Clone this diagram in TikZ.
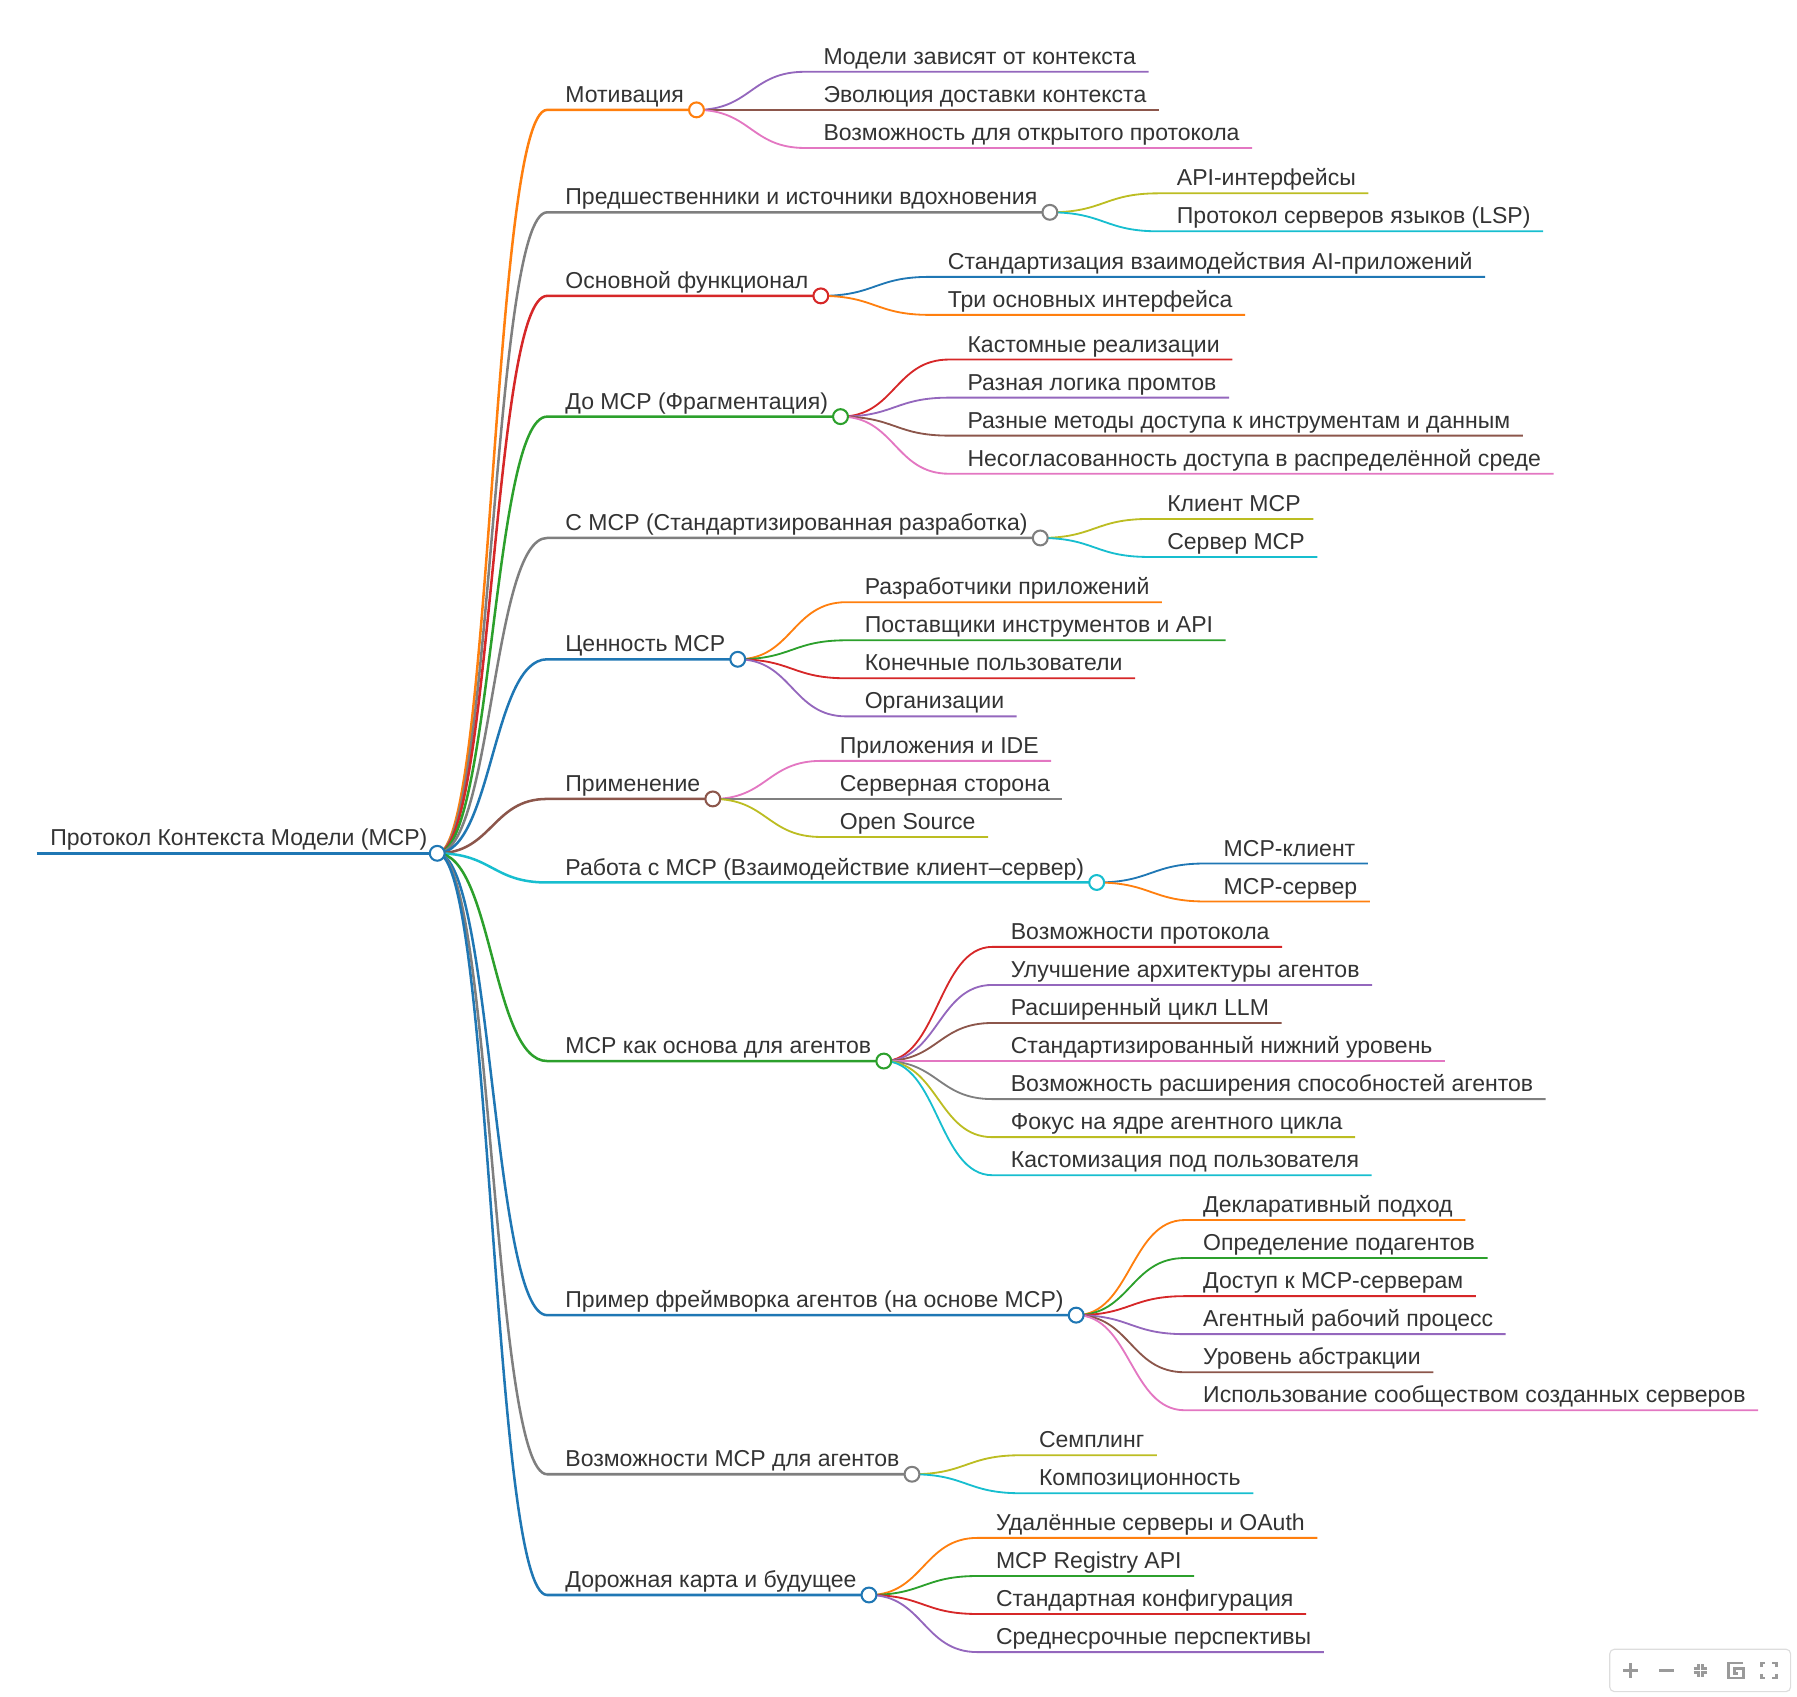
\documentclass[tikz,border=0pt]{standalone}
\usepackage{fontspec}
\setmainfont{Liberation Sans}
\usetikzlibrary{calc}
\definecolor{mblue}{HTML}{1F77B4}
\definecolor{morange}{HTML}{FF7F0E}
\definecolor{mgreen}{HTML}{2CA02C}
\definecolor{mred}{HTML}{D62728}
\definecolor{mpurple}{HTML}{9467BD}
\definecolor{mbrown}{HTML}{8C564B}
\definecolor{mpink}{HTML}{E377C2}
\definecolor{mgray}{HTML}{7F7F7F}
\definecolor{molive}{HTML}{BCBD22}
\definecolor{mcyan}{HTML}{17BECF}
\definecolor{mtext}{HTML}{333333}
\definecolor{uigray}{HTML}{9A9A9A}
\definecolor{uiborder}{HTML}{DDDDDD}
\tikzset{
  lbl/.style={inner sep=0pt, outer sep=0pt, text=mtext, font=\fontsize{20.12}{24}\selectfont},
  l0/.style={line width=3pt},
  l1/.style={line width=2.2pt},
  l2/.style={line width=1.6pt},
  mmdot/.style={circle, minimum size=13pt, inner sep=0pt, fill=white, line width=1.8pt},
  uiicon/.style={draw=uigray, line width=2.4pt},
}
% branch: name, y, color, text
\newcommand{\mmbranch}[4]{%
  \node[lbl,anchor=base west] (#1) at (494pt,-#2pt+6.5pt) {#4};
  \coordinate (#1-pt) at ($(#1.base east)+(11pt,-6.5pt)$);
  \draw[l1,#3] (rootc) .. controls (430pt,-745.5pt) and (430pt,-#2pt) .. (478pt,-#2pt) -- (#1-pt);
}
% leaf: parent, y, color, text, name
\newcommand{\mmleaf}[5]{%
  \path let \p1=(#1-pt) in node[lbl,anchor=base west] (#5) at (\x1+111pt,-#2pt+6.5pt) {#4};
  \draw[l2,#3] let \p1=(#1-pt), \p2=(#5.base east) in (\p1) .. controls (\x1+47.5pt,\y1) and (\x1+47.5pt,-#2pt) .. (\x1+95pt,-#2pt) -- (\x2+11pt,-#2pt);
}
\newcommand{\mmcirc}[2]{\node[mmdot,draw=#2] (#1-dot) at (#1-pt) {};}
\begin{document}
\begin{tikzpicture}
\useasboundingbox (0,0) rectangle (1570pt,-1482.5pt);
\coordinate (rootc) at (382pt,-745.5pt);
\coordinate (rootl) at (32pt,-745.5pt);
\node[lbl,anchor=base west] (root) at (44pt,-739pt) {Протокол Контекста Модели (MCP)};
\draw[l0,mblue] (rootl) -- (rootc);

% 1
\mmbranch{b1}{96}{morange}{Мотивация}
\mmleaf{b1}{62.7}{mpurple}{Модели зависят от контекста}{b1a}
\mmleaf{b1}{96}{mbrown}{Эволюция доставки контекста}{b1b}
\mmleaf{b1}{129.3}{mpink}{Возможность для открытого протокола}{b1c}
\mmcirc{b1}{morange}
% 2
\mmbranch{b2}{185.5}{mgray}{Предшественники и источники вдохновения}
\mmleaf{b2}{168.9}{molive}{API-интерфейсы}{b2a}
\mmleaf{b2}{202.1}{mcyan}{Протокол серверов языков (LSP)}{b2b}
\mmcirc{b2}{mgray}
% 3
\mmbranch{b3}{258.5}{mred}{Основной функционал}
\mmleaf{b3}{241.9}{mblue}{Стандартизация взаимодействия AI-приложений}{b3a}
\mmleaf{b3}{275.1}{morange}{Три основных интерфейса}{b3b}
\mmcirc{b3}{mred}
% 4
\mmbranch{b4}{364}{mgreen}{До MCP (Фрагментация)}
\mmleaf{b4}{314.1}{mred}{Кастомные реализации}{b4a}
\mmleaf{b4}{347.4}{mpurple}{Разная логика промтов}{b4b}
\mmleaf{b4}{380.6}{mbrown}{Разные методы доступа к инструментам и данным}{b4c}
\mmleaf{b4}{413.9}{mpink}{Несогласованность доступа в распределённой среде}{b4d}
\mmcirc{b4}{mgreen}
% 5
\mmbranch{b5}{470}{mgray}{С MCP (Стандартизированная разработка)}
\mmleaf{b5}{453.4}{molive}{Клиент MCP}{b5a}
\mmleaf{b5}{486.6}{mcyan}{Сервер MCP}{b5b}
\mmcirc{b5}{mgray}
% 6
\mmbranch{b6}{576}{mblue}{Ценность MCP}
\mmleaf{b6}{526.1}{morange}{Разработчики приложений}{b6a}
\mmleaf{b6}{559.4}{mgreen}{Поставщики инструментов и API}{b6b}
\mmleaf{b6}{592.6}{mred}{Конечные пользователи}{b6c}
\mmleaf{b6}{625.9}{mpurple}{Организации}{b6d}
\mmcirc{b6}{mblue}
% 7
\mmbranch{b7}{698}{mbrown}{Применение}
\mmleaf{b7}{664.75}{mpink}{Приложения и IDE}{b7a}
\mmleaf{b7}{698}{mgray}{Серверная сторона}{b7b}
\mmleaf{b7}{731.25}{molive}{Open Source}{b7c}
\mmcirc{b7}{mbrown}
% 8
\mmbranch{b8}{771}{mcyan}{Работа с MCP (Взаимодействие клиент–сервер)}
\mmleaf{b8}{754.4}{mblue}{MCP-клиент}{b8a}
\mmleaf{b8}{787.6}{morange}{MCP-сервер}{b8b}
\mmcirc{b8}{mcyan}
% 9
\mmbranch{b9}{927}{mgreen}{MCP как основа для агентов}
\mmleaf{b9}{827.25}{mred}{Возможности протокола}{b9a}
\mmleaf{b9}{860.5}{mpurple}{Улучшение архитектуры агентов}{b9b}
\mmleaf{b9}{893.75}{mbrown}{Расширенный цикл LLM}{b9c}
\mmleaf{b9}{927}{mpink}{Стандартизированный нижний уровень}{b9d}
\mmleaf{b9}{960.25}{mgray}{Возможность расширения способностей агентов}{b9e}
\mmleaf{b9}{993.5}{molive}{Фокус на ядре агентного цикла}{b9f}
\mmleaf{b9}{1026.75}{mcyan}{Кастомизация под пользователя}{b9g}
\mmcirc{b9}{mgreen}
% 10
\mmbranch{b10}{1149}{mblue}{Пример фреймворка агентов (на основе MCP)}
\mmleaf{b10}{1065.9}{morange}{Декларативный подход}{b10a}
\mmleaf{b10}{1099.1}{mgreen}{Определение подагентов}{b10b}
\mmleaf{b10}{1132.4}{mred}{Доступ к MCP-серверам}{b10c}
\mmleaf{b10}{1165.6}{mpurple}{Агентный рабочий процесс}{b10d}
\mmleaf{b10}{1198.9}{mbrown}{Уровень абстракции}{b10e}
\mmleaf{b10}{1232.1}{mpink}{Использование сообществом созданных серверов}{b10f}
\mmcirc{b10}{mblue}
% 11
\mmbranch{b11}{1288}{mgray}{Возможности MCP для агентов}
\mmleaf{b11}{1271.4}{molive}{Семплинг}{b11a}
\mmleaf{b11}{1304.6}{mcyan}{Композиционность}{b11b}
\mmcirc{b11}{mgray}
% 12
\mmbranch{b12}{1393.5}{mblue}{Дорожная карта и будущее}
\mmleaf{b12}{1343.6}{morange}{Удалённые серверы и OAuth}{b12a}
\mmleaf{b12}{1376.9}{mgreen}{MCP Registry API}{b12b}
\mmleaf{b12}{1410.1}{mred}{Стандартная конфигурация}{b12c}
\mmleaf{b12}{1443.4}{mpurple}{Среднесрочные перспективы}{b12d}
\mmcirc{b12}{mblue}

\node[mmdot,draw=mblue] (rootdot) at (rootc) {};

% toolbar
\node[draw=uiborder, line width=1pt, rounded corners=4pt, minimum width=158pt, minimum height=37pt, inner sep=0pt] (toolbar) at (1485.4pt,-1459.4pt) {};
\coordinate (i1) at (1424.8pt,-1459.5pt);
\coordinate (i2) at (1456pt,-1459.5pt);
\coordinate (i3) at (1485.7pt,-1459.5pt);
\coordinate (i4) at (1516.6pt,-1459.5pt);
\coordinate (i5) at (1545.4pt,-1459.5pt);
\draw[uiicon] ($(i1)+(-6.5pt,0)$) -- ($(i1)+(6.5pt,0)$) ($(i1)+(0,-6.5pt)$) -- ($(i1)+(0,6.5pt)$);
\draw[uiicon] ($(i2)+(-6.5pt,0)$) -- ($(i2)+(6.5pt,0)$);
\draw[uiicon] ($(i3)+(-6pt,2pt)$) -- ($(i3)+(-2pt,2pt)$) -- ($(i3)+(-2pt,6pt)$)
  ($(i3)+(6pt,2pt)$) -- ($(i3)+(2pt,2pt)$) -- ($(i3)+(2pt,6pt)$)
  ($(i3)+(-6pt,-2pt)$) -- ($(i3)+(-2pt,-2pt)$) -- ($(i3)+(-2pt,-6pt)$)
  ($(i3)+(6pt,-2pt)$) -- ($(i3)+(2pt,-2pt)$) -- ($(i3)+(2pt,-6pt)$);
\draw[uiicon] ($(i4)+(6.5pt,6.5pt)$) -- ($(i4)+(-6.5pt,6.5pt)$) -- ($(i4)+(-6.5pt,-6.5pt)$) -- ($(i4)+(6.5pt,-6.5pt)$) -- ($(i4)+(6.5pt,1.5pt)$) -- ($(i4)+(-1.5pt,1.5pt)$) -- ($(i4)+(-1.5pt,-2.5pt)$) -- ($(i4)+(2pt,-2.5pt)$);
\draw[uiicon] ($(i5)+(-6.5pt,3pt)$) -- ($(i5)+(-6.5pt,6.5pt)$) -- ($(i5)+(-3pt,6.5pt)$)
  ($(i5)+(6.5pt,3pt)$) -- ($(i5)+(6.5pt,6.5pt)$) -- ($(i5)+(3pt,6.5pt)$)
  ($(i5)+(-6.5pt,-3pt)$) -- ($(i5)+(-6.5pt,-6.5pt)$) -- ($(i5)+(-3pt,-6.5pt)$)
  ($(i5)+(6.5pt,-3pt)$) -- ($(i5)+(6.5pt,-6.5pt)$) -- ($(i5)+(3pt,-6.5pt)$);
\end{tikzpicture}
\end{document}
